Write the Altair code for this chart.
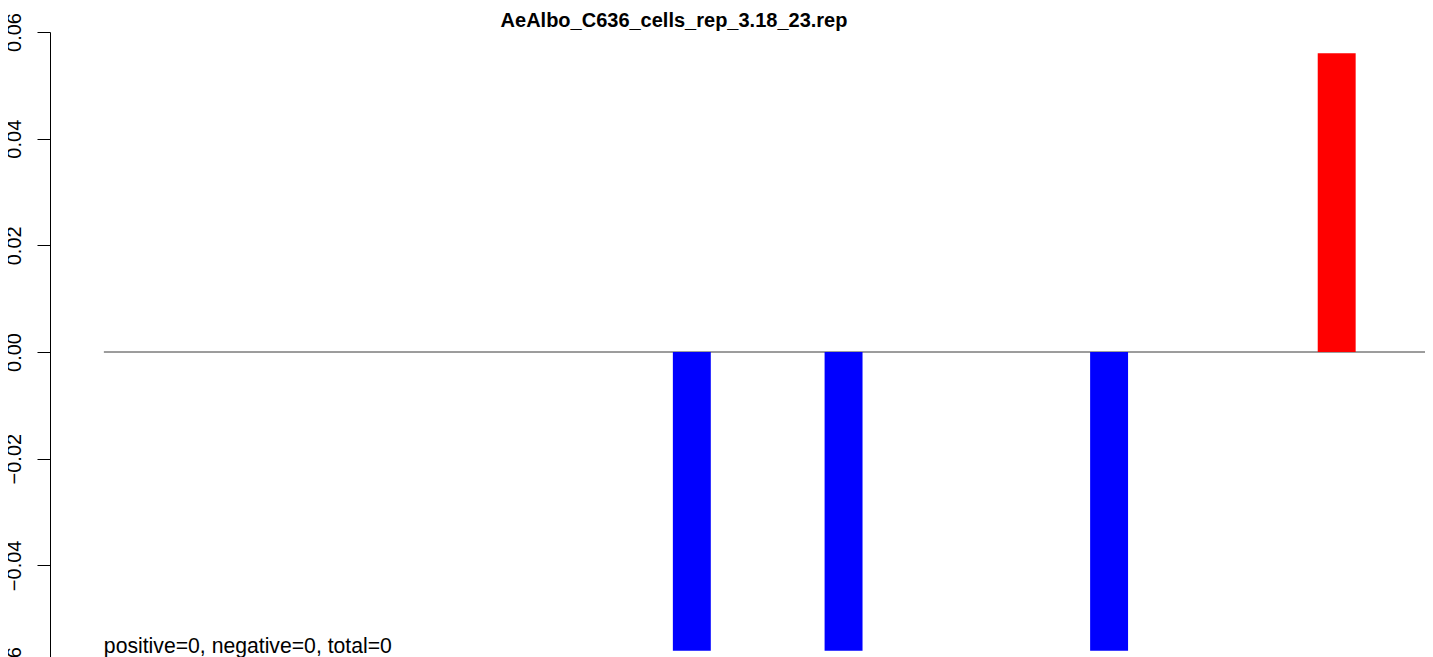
import altair as alt
import pandas as pd

title_text = "AeAlbo_C636_cells_rep_3.18_23.rep"
# one value per bar position (36 positions); most are zero
bar_values = [0.0] * 36
neg_positions = [15, 19, 26]
neg_values = [-0.056, -0.056, -0.056]
pos_positions = [32]
pos_values = [0.056]
for p, v in zip(neg_positions, neg_values):
    bar_values[p] = v
for p, v in zip(pos_positions, pos_values):
    bar_values[p] = v

y_ticks = [-0.06, -0.04, -0.02, 0.0, 0.02, 0.04, 0.06]
note_text = "positive=0, negative=0, total=0"
note_x = 0
note_y = -0.0564

df = pd.DataFrame({"idx": list(range(len(bar_values))), "value": bar_values})
df["idx2"] = df["idx"] + 1
df["base"] = 0.0
df["sign"] = ["pos" if v > 0 else "neg" for v in df["value"]]
df_bars = df[df["value"] != 0].reset_index(drop=True)
df_rule = pd.DataFrame({"xa": [0], "xb": [len(bar_values)], "yv": [0.0]})
df_note = pd.DataFrame({"xa": [note_x], "yv": [note_y], "t": [note_text]})

FONT = "Liberation Sans"
xscale = alt.Scale(domain=[-1.42, 31.48], zero=False, nice=False)
yscale = alt.Scale(domain=[-0.06, 0.06], zero=False, nice=False)
yaxis = alt.Axis(values=y_ticks, format=".2f", title=None, grid=False,
                 domainColor="black", tickColor="black", tickSize=13,
                 labelAngle=270, labelAlign="center", labelBaseline="alphabetic",
                 labelPadding=17, labelFont=FONT, labelFontSize=20,
                 labelColor="black", labelFlush=False, labelOverlap=False)

bars = alt.Chart(df_bars).mark_rect().encode(
    x=alt.X("idx:Q", scale=xscale, axis=None),
    x2="idx2:Q",
    y=alt.Y("value:Q", scale=yscale, axis=yaxis),
    y2="base:Q",
    color=alt.Color("sign:N", scale=alt.Scale(domain=["pos", "neg"], range=["#ff0000", "#0000ff"]),
                    legend=None),
)

rule = alt.Chart(df_rule).mark_rule(color="#3a3a3a", strokeWidth=1).encode(
    x=alt.X("xa:Q", scale=xscale, axis=None),
    x2="xb:Q",
    y=alt.Y("yv:Q", scale=yscale, axis=yaxis),
)

note = alt.Chart(df_note).mark_text(align="left", baseline="alphabetic", font=FONT,
                                     fontSize=21.2, color="black").encode(
    x=alt.X("xa:Q", scale=xscale, axis=None),
    y=alt.Y("yv:Q", scale=yscale, axis=yaxis),
    text="t:N",
)

chart = alt.layer(rule, bars, note).properties(
    width=1248,
    height=640,
    title=alt.TitleParams(title_text, font=FONT, fontSize=20, fontWeight="bold",
                          anchor="middle", frame="group", offset=4, dy=22, color="black"),
    autosize=alt.AutoSizeParams(type="none"),
    padding={"left": 42, "top": 24, "right": 127, "bottom": 0},
).configure_view(stroke=None)

chart.save("out.html", embed_options={"renderer": "svg", "actions": False})
